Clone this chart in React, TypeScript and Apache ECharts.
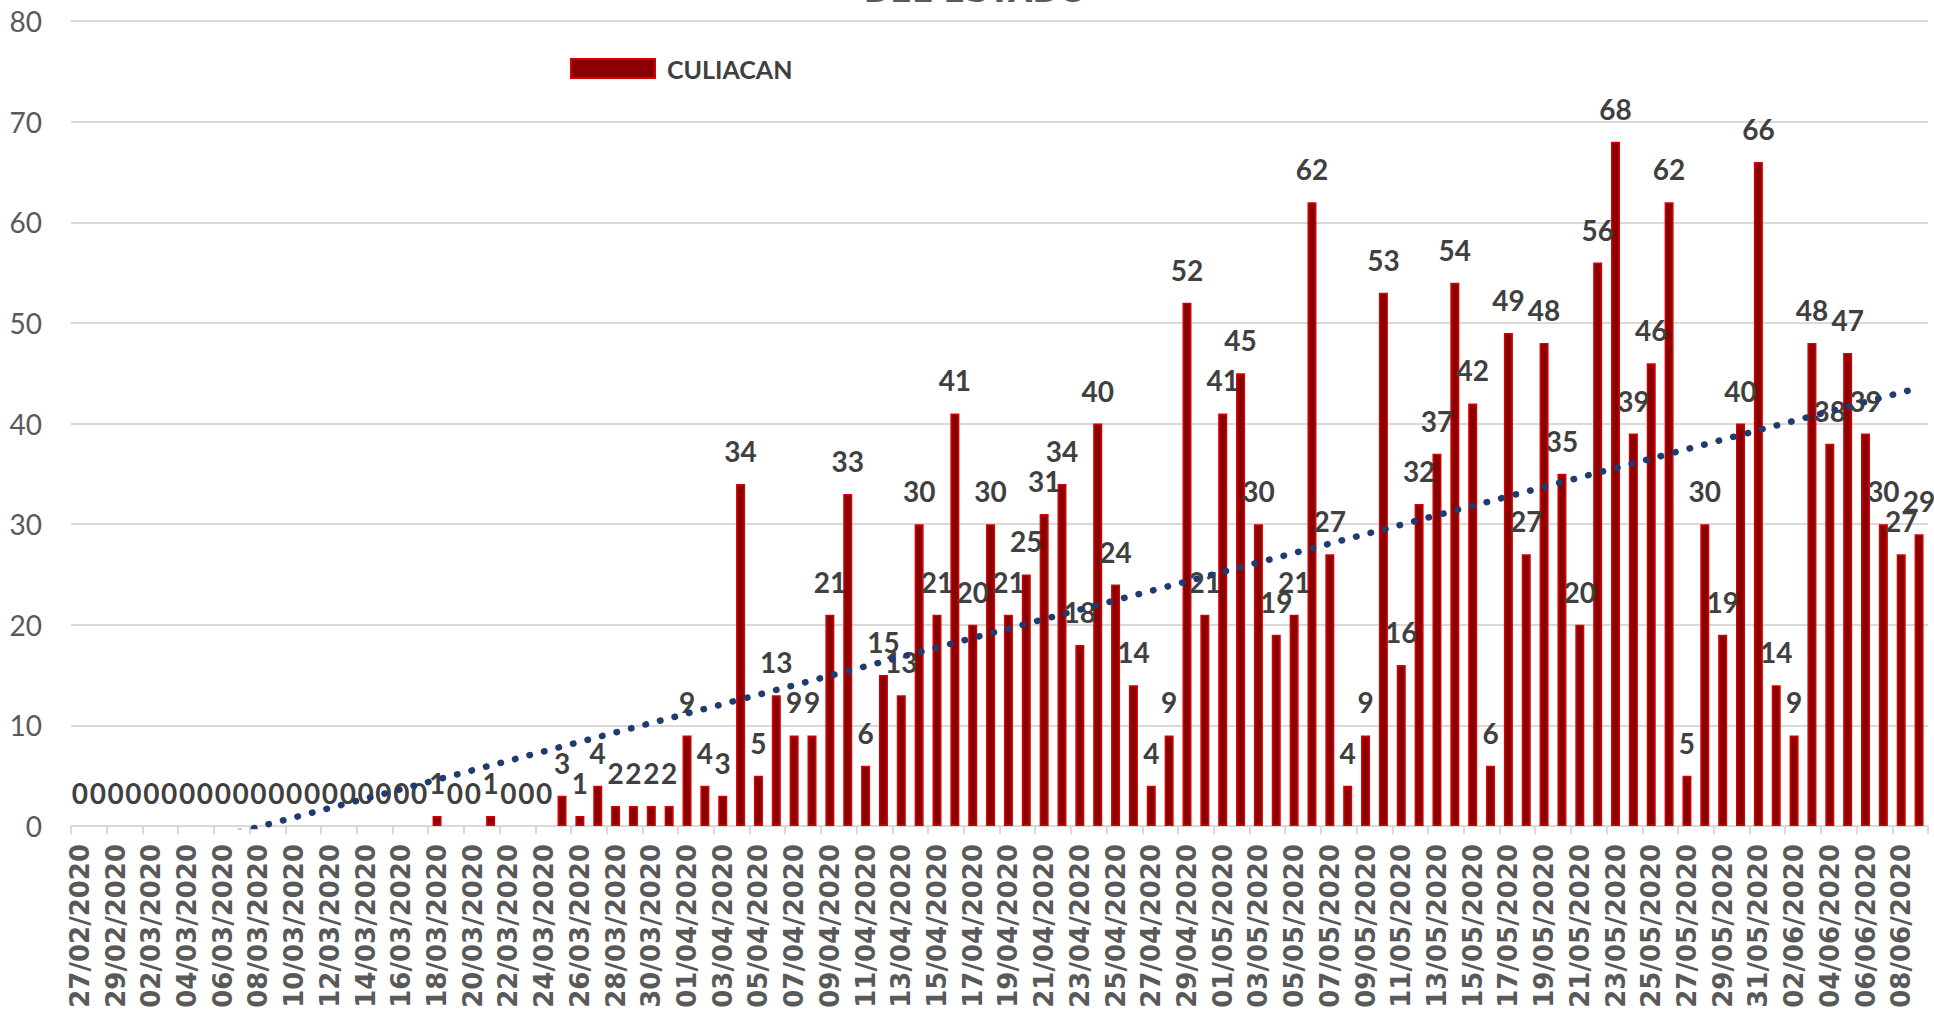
import React, { useEffect, useRef } from "react";
import * as echarts from "echarts";

// ---- data ----
const startDate = { year: 2020, month: 2, day: 27 }; // first category 27/02/2020
const dayCount = 104; // 27/02/2020 .. 09/06/2020

const seriesName = "CULIACAN";
const casos: number[] = [
  0, 0, 0, 0, 0, 0, 0, 0, 0, 0, 0, 0, 0, 0, 0, 0, 0, 0, 0, 0,
  1, 0, 0, 1, 0, 0, 0, 3, 1, 4, 2, 2, 2, 2,
  9, 4, 3, 34, 5, 13, 9, 9, 21, 33,
  6, 15, 13, 30, 21, 41, 20, 30, 21, 25,
  31, 34, 18, 40, 24, 14, 4, 9, 52, 21,
  41, 45, 30, 19, 21, 62, 27, 4, 9, 53,
  16, 32, 37, 54, 42, 6, 49, 27, 48, 35,
  20, 56, 68, 39, 46, 62, 5, 30, 19, 40,
  66, 14, 9, 48, 38, 47, 39, 30, 27, 29,
];

const yTicks = { min: 0, max: 80, interval: 10 };
const titleFragment = "DEL ESTADO";

function buildDates(): string[] {
  const out: string[] = [];
  for (let i = 0; i < dayCount; i++) {
    const d = new Date(Date.UTC(startDate.year, startDate.month - 1, startDate.day + i));
    const dd = String(d.getUTCDate()).padStart(2, "0");
    const mm = String(d.getUTCMonth() + 1).padStart(2, "0");
    out.push(`${dd}/${mm}/${d.getUTCFullYear()}`);
  }
  return out;
}

// linear trendline (least squares) like Excel's "Lineal"
function linearTrend(values: number[]): number[] {
  const n = values.length;
  let sx = 0, sy = 0;
  values.forEach((v, i) => { sx += i; sy += v; });
  const mx = sx / n, my = sy / n;
  let num = 0, den = 0;
  values.forEach((v, i) => { num += (i - mx) * (v - my); den += (i - mx) * (i - mx); });
  const slope = num / den;
  const b = my - slope * mx;
  return values.map((_, i) => +(b + slope * i).toFixed(3));
}

export default function App() {
  const ref = useRef<HTMLDivElement>(null);
  useEffect(() => {
    if (!ref.current) return;
    const chart = echarts.init(ref.current, undefined, { renderer: "svg" });
    const dates = buildDates();
    const trend = linearTrend(casos);
    const barData = casos.map((v) =>
      v === 0 ? { value: v, itemStyle: { borderWidth: 0 } } : v
    );
    chart.setOption({
      animation: false,
      backgroundColor: "#ffffff",
      grid: { left: 71, top: 21, width: 1857, height: 805, containLabel: false },
      legend: {
        data: [seriesName],
        left: 570,
        top: 56,
        padding: 0,
        icon: "rect",
        itemWidth: 84,
        itemHeight: 19,
        textStyle: {
          fontFamily: "Lato",
          fontWeight: "bold",
          fontSize: 25,
          color: "#404040",
          padding: [0, 0, 0, 7],
        },
      },
      graphic: [
        {
          type: "text",
          x: 975,
          y: 7,
          silent: true,
          style: {
            text: titleFragment,
            font: 'bold 32px "DejaVu Sans"',
            fill: "#595959",
            align: "center",
            verticalAlign: "bottom",
          },
        },
      ],
      xAxis: {
        type: "category",
        data: dates,
        boundaryGap: true,
        axisLine: { show: true, lineStyle: { color: "#D9D9D9", width: 2 } },
        axisTick: { show: true, interval: 1, length: 8, lineStyle: { color: "#D9D9D9", width: 2 } },
        axisLabel: {
          interval: 1,
          rotate: 90,
          margin: 18,
          fontFamily: "DejaVu Sans",
          fontWeight: "bold",
          fontSize: 26,
          color: "#595959",
        },
      },
      yAxis: {
        type: "value",
        min: yTicks.min,
        max: yTicks.max,
        interval: yTicks.interval,
        axisLine: { show: false },
        axisTick: { show: false },
        axisLabel: { fontFamily: "Lato", fontSize: 28, color: "#595959", margin: 29 },
        splitLine: { lineStyle: { color: "#D9D9D9", width: 2 } },
      },
      series: [
        {
          name: seriesName,
          type: "bar",
          data: barData,
          barWidth: 9,
          itemStyle: { color: "#8B0000", borderColor: "#D60000", borderWidth: 1.5 },
          label: {
            show: true,
            position: "top",
            distance: 19,
            fontFamily: "Lato",
            fontWeight: "bold",
            fontSize: 28,
            color: "#404040",
          },
          z: 2,
        },
        {
          name: "Lineal (CULIACAN)",
          type: "line",
          data: trend,
          showSymbol: false,
          symbol: "none",
          silent: true,
          clip: true,
          lineStyle: { color: "#1F3B70", width: 6.5, type: [0.5, 14.5], cap: "round" },
          z: 5,
        },
      ],
    });
    return () => chart.dispose();
  }, []);
  return (
    <div
      ref={ref}
      style={{ position: "fixed", left: 0, top: 0, width: 1934, height: 1011, background: "#fff" }}
    />
  );
}
